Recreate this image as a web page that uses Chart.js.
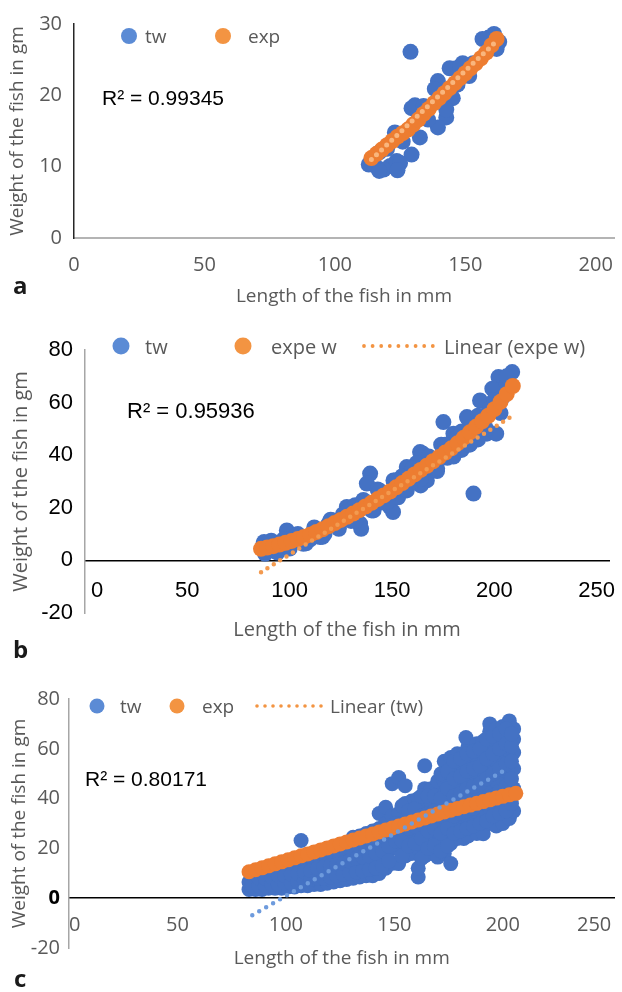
<!DOCTYPE html>
<html>
<head>
<meta charset="utf-8">
<script src="https://cdn.jsdelivr.net/npm/chart.js@4.4.1/dist/chart.umd.min.js"></script>
<style>
  body { margin: 0; background: #fff; }
  #wrap { position: relative; width: 622px; height: 992px; }
  canvas { position: absolute; left: 0; }
</style>
</head>
<body>
<div id="wrap">
  <canvas id="chartA" width="622" height="312" style="top:0px"></canvas>
  <canvas id="chartB" width="622" height="346" style="top:318px"></canvas>
  <canvas id="chartC" width="622" height="332" style="top:660px"></canvas>
</div>
<script>
// ---- panel a ----
const aTwLength = [129, 159, 162, 146.5, 144, 151.5, 139.5, 138.3, 145.2, 129.4, 130.7, 142.7, 139.5, 132.6, 123, 129.4, 115.5, 121.2, 118.7, 123.7, 156.6, 142.7, 135.7, 149, 126, 134, 153, 147, 117, 120,
  113, 117, 125, 124, 161, 163, 150, 148];
const aTwWeight = [26.1, 28.1, 26.5, 23.8, 23.8, 22.7, 22.0, 20.9, 19.6, 18.2, 18.6, 16.9, 15.5, 14.1, 14.8, 11.7, 10.1, 10.1, 9.6, 10.8, 27.9, 18.0, 16.6, 24.5, 13.5, 18.5, 24.5, 21.5, 12.0, 12.5,
  10.3, 9.4, 10.5, 9.5, 28.6, 27.5, 23.5, 24.0];
const aExpLength = [114, 116, 118, 120, 122, 124, 126, 128, 130, 132, 134, 136, 138, 140, 142, 144, 146, 148, 150, 152, 154, 156, 158, 160, 162];
const aExpWeight = [11.2, 11.8, 12.4, 13.0, 13.6, 14.2, 14.7, 15.2, 15.9, 16.6, 17.4, 18.1, 18.9, 19.6, 20.3, 21.0, 21.7, 22.4, 23.1, 23.8, 24.5, 25.2, 26.0, 27.0, 27.9];
const aTrendLength = [114, 162];
const aTrendWeight = [11.0, 27.6];
const aXTicks = [0, 50, 100, 150, 200];
const aYTicks = [0, 10, 20, 30];

// ---- panel b ----
const bTwLength = [189.8, 139.3, 137.7, 175.1, 193, 163.7, 127.9, 98.6, 134.4, 149, 150.7, 170.2, 186.6, 196.3, 87.2, 90.4, 114.9, 106.7, 121.4, 144.2, 157.2, 157.2, 178.4, 167, 180, 201.2, 208.7, 202, 165, 134.9, 150.5, 164, 200.9, 187.2, 199, 87.5,
  92, 95, 100, 103, 110, 112, 117, 119, 124, 126, 130, 132, 141, 143, 146, 153, 155, 160, 162, 168, 172, 174, 177, 182, 184, 190, 192, 195, 198, 204, 206,
  88, 91, 94, 97, 100, 104, 108, 112, 116, 120, 124, 128, 132, 136, 140, 144, 148, 152, 156, 160, 164, 168, 172, 176, 180, 184, 188, 192, 196, 200, 203, 206];
const bTwWeight = [25.4, 33.0, 29.2, 52.6, 60.8, 41.2, 20.3, 11.4, 14.0, 20.3, 30.4, 35.5, 54.5, 48.2, 6.3, 3.8, 8.9, 6.3, 15.2, 24.1, 26.6, 35.5, 43.1, 30.4, 48.2, 65.9, 71.6, 69.7, 40.6, 12.0, 18.4, 28.5, 48.2, 53.9, 65.3, 7.0,
  6.5, 4.5, 7.5, 9.5, 8.0, 11.0, 10.0, 14.0, 13.0, 17.5, 15.0, 21.0, 19.0, 27.0, 22.0, 24.0, 32.0, 30.0, 37.0, 39.0, 34.0, 44.0, 39.0, 47.0, 42.0, 50.0, 46.0, 55.0, 58.0, 62.0, 67.0,
  2.5, 7.5, 3.0, 8.0, 4.5, 10.0, 6.5, 12.5, 9.0, 15.5, 12.0, 18.5, 15.0, 23.0, 19.0, 26.5, 22.5, 30.5, 27.0, 35.0, 31.0, 39.5, 35.0, 44.0, 39.5, 49.0, 44.0, 55.0, 50.0, 61.0, 56.0, 70.0];
const bExpLength = [86, 89, 92, 95, 98, 101, 104, 107, 110, 113, 116, 119, 122, 125, 128, 131, 134, 137, 140, 143, 146, 149, 152, 155, 158, 161, 164, 167, 170, 173, 176, 179, 182, 185, 188, 191, 194, 197, 200, 203, 206, 209];
const bExpWeight = [4.4, 4.9, 5.4, 6.0, 6.7, 7.4, 8.1, 8.9, 9.8, 10.8, 11.8, 13.0, 14.2, 15.4, 16.6, 17.8, 19.1, 20.5, 21.9, 23.3, 24.7, 26.2, 27.8, 29.4, 31.0, 32.7, 34.4, 36.0, 37.7, 39.3, 41.0, 42.6, 44.5, 46.6, 48.7, 50.8, 52.9, 55.0, 57.5, 60.3, 63.2, 66.3];
const bTrendLength = [86, 209];
const bTrendWeight = [-4.5, 55];
const bXTicks = [0, 50, 100, 150, 200, 250];
const bYTicks = [-20, 0, 20, 40, 60, 80];

// ---- panel c ----
const cTwLength = [
  83, 83, 84, 86, 86, 86, 89, 89, 89, 92, 92, 92, 95, 95, 95, 98, 98, 98,
  101, 101, 101, 104, 104, 104, 107, 107, 107, 107, 110, 110, 110, 113, 113, 113, 116, 116, 116, 119, 119, 119,
  122, 122, 122, 125, 125, 125, 128, 128, 128, 128, 131, 131, 131, 131, 134, 134, 134, 134, 137, 137, 137, 137,
  140, 140, 140, 140, 143, 143, 143, 143, 143, 146, 146, 146, 146, 146,
  149, 149, 149, 149, 149, 152, 152, 152, 152, 152, 155, 155, 155, 155, 155, 158, 158, 158, 158,
  161, 161, 161, 161, 161, 161, 164, 164, 164, 164, 164, 164, 167, 167, 167, 167, 167, 170, 170, 170, 170, 170, 170,
  173, 173, 173, 173, 173, 173, 176, 176, 176, 176, 176, 176, 176, 179, 179, 179, 179, 179, 179,
  182, 182, 182, 182, 182, 182, 184, 184, 184, 184, 184, 184, 183, 188, 188, 188, 188, 188, 188,
  191, 191, 191, 191, 191, 191, 194, 194, 194, 194, 194, 194, 194, 197, 197, 197, 197, 197, 197,
  200, 200, 200, 200, 200, 200, 203, 203, 203, 203, 203, 203, 205, 205, 205, 205, 205, 205,
  150, 156, 163, 171, 178, 186, 192, 198, 139, 133, 127,
  84.5, 87.5, 87.5, 90.5, 90.5, 93.5, 93.5, 96.5, 96.5, 99.5, 99.5,
  102.5, 102.5, 105.5, 105.5, 108.5, 108.5, 111.5, 111.5, 114.5, 114.5, 117.5, 117.5, 120.5, 120.5, 123.5, 123.5, 126.5, 126.5,
  129.5, 129.5, 132.5, 132.5, 135.5, 135.5, 138.5, 138.5, 141.5, 141.5, 141.5, 144.5, 144.5, 144.5, 147.5, 147.5, 147.5,
  150.5, 150.5, 153.5, 153.5, 153.5, 153.5, 156.5, 156.5, 156.5, 159.5, 159.5, 159.5, 162.5, 162.5, 162.5, 162.5,
  165.5, 165.5, 165.5, 165.5, 168.5, 168.5, 168.5, 168.5, 171.5, 171.5, 171.5, 171.5, 171.5, 174.5, 174.5, 174.5, 174.5, 174.5,
  177.5, 177.5, 177.5, 177.5, 177.5, 180.5, 180.5, 180.5, 180.5, 180.5, 183.5, 183.5, 183.5, 183.5, 183.5,
  186.5, 186.5, 186.5, 186.5, 186.5, 189.5, 189.5, 189.5, 189.5, 189.5, 192.5, 192.5, 192.5, 192.5, 192.5,
  195.5, 195.5, 195.5, 195.5, 195.5, 198.5, 198.5, 198.5, 198.5, 198.5, 201.5, 201.5, 201.5, 201.5, 201.5, 204, 204, 204, 204, 204];
const cTwWeight = [
  3.5, 6.5, 5.0, 3.5, 6.5, 9.0, 3.5, 6.5, 9.0, 4.0, 7.0, 9.5, 4.0, 7.0, 10.0, 4.0, 7.0, 10.5,
  4.5, 7.5, 11.0, 4.5, 8.0, 11.5, 5.0, 8.5, 12.0, 23.2, 5.0, 9.0, 12.5, 5.5, 9.5, 13.5, 5.5, 10.0, 14.0, 6.0, 10.5, 15.0,
  6.5, 11.0, 15.5, 7.0, 11.5, 16.5, 7.5, 12.0, 17.0, 21.0, 8.0, 12.5, 18.0, 24.5, 8.5, 13.0, 18.5, 25.0, 9.0, 14.0, 19.5, 26.0,
  9.0, 14.5, 20.0, 27.0, 9.9, 15.0, 21.0, 28.0, 34.0, 12.0, 17.0, 23.0, 30.0, 36.5,
  14.0, 20.0, 26.0, 33.0, 46.0, 13.9, 20.0, 26.0, 34.0, 48.5, 17.0, 24.0, 31.0, 38.0, 45.2, 18.0, 25.0, 32.0, 39.0,
  8.5, 12.0, 20.0, 27.0, 34.0, 40.0, 17.0, 23.0, 30.0, 37.0, 44.0, 53.2, 18.0, 24.0, 31.0, 38.0, 44.0, 16.5, 22.0, 29.0, 36.0, 43.0, 47.0,
  18.0, 25.0, 32.0, 40.0, 47.0, 55.0, 13.9, 22.0, 28.0, 35.0, 43.0, 50.0, 56.5, 24.0, 30.0, 37.0, 45.0, 52.0, 58.0,
  24.0, 31.0, 38.0, 46.0, 53.0, 58.0, 25.0, 32.0, 40.0, 48.0, 55.0, 61.0, 64.5, 26.0, 33.0, 41.0, 49.0, 56.0, 62.0,
  25.9, 34.0, 43.0, 51.0, 58.0, 63.0, 30.0, 36.0, 45.0, 53.0, 60.0, 67.0, 70.0, 29.0, 37.0, 47.0, 55.0, 62.0, 68.0,
  30.0, 38.0, 48.0, 57.0, 64.0, 69.0, 32.0, 40.0, 50.0, 59.0, 66.0, 71.2, 35.0, 44.0, 52.0, 58.5, 63.9, 68.0,
  23.0, 28.0, 26.0, 33.0, 40.0, 44.0, 40.0, 51.0, 23.5, 21.5, 14.5,
  5.0, 5.0, 8.0, 5.0, 8.0, 5.5, 8.5, 5.5, 9.0, 6.0, 9.0,
  6.0, 9.5, 6.5, 10.0, 7.0, 10.5, 7.5, 11.0, 8.0, 12.0, 8.0, 12.5, 8.5, 13.0, 9.0, 13.5, 9.5, 14.0,
  10.0, 15.0, 10.5, 16.0, 11.0, 16.5, 11.5, 17.0, 12.0, 18.0, 24.0, 13.0, 19.0, 25.0, 15.0, 21.0, 28.0,
  23.0, 30.0, 17.0, 23.0, 30.0, 37.0, 21.0, 28.0, 35.0, 22.0, 29.0, 36.0, 16.0, 24.0, 33.0, 41.0,
  20.0, 27.0, 34.0, 41.0, 21.0, 28.0, 35.0, 41.0, 19.0, 26.0, 33.0, 40.0, 50.0, 21.0, 28.0, 36.0, 44.0, 51.0,
  26.0, 33.0, 41.0, 48.0, 55.0, 27.0, 34.0, 42.0, 49.0, 56.0, 28.0, 35.0, 44.0, 51.0, 58.0,
  29.0, 36.0, 45.0, 52.0, 59.0, 30.0, 38.0, 46.0, 53.0, 60.0, 31.0, 40.0, 48.0, 56.0, 64.0,
  33.0, 41.0, 50.0, 58.0, 65.0, 34.0, 43.0, 52.0, 60.0, 66.0, 35.0, 45.0, 54.0, 62.0, 68.0, 38.0, 48.0, 55.0, 61.0, 66.0];
const cExpLength = [83, 86, 89, 92, 95, 98, 101, 104, 107, 110, 113, 116, 119, 122, 125, 128, 131, 134, 137, 140, 143, 146, 149, 152, 155, 158, 161, 164, 167, 170, 173, 176, 179, 182, 185, 188, 191, 194, 197, 200, 203, 206];
const cExpWeight = [10.6, 11.4, 12.2, 13.0, 13.8, 14.6, 15.4, 16.2, 17.0, 17.8, 18.6, 19.4, 20.2, 21.0, 21.8, 22.6, 23.4, 24.2, 25.0, 25.8, 26.6, 27.4, 28.2, 29.0, 29.8, 30.6, 31.4, 32.2, 33.0, 33.8, 34.6, 35.3, 36.0, 36.7, 37.4, 38.1, 38.8, 39.5, 40.2, 40.9, 41.5, 42.1];
const cTrendLength = [84.5, 202];
const cTrendWeight = [-6.8, 52];
const cXTicks = [0, 50, 100, 150, 200, 250];
const cYTicks = [-20, 0, 20, 40, 60, 80];

const blue = '#4472C4';
const orange = '#ED7D31';
const grey = '#595959';
const sans = '"Open Sans", sans-serif';
const arial = '"Liberation Sans", Arial, sans-serif';

const pts = (xs, ys) => xs.map((x, i) => ({ x: x, y: ys[i] }));

// legend, R² note and panel letter, placed inside the plot like the original
const panelDecor = {
  id: 'panelDecor',
  afterDraw(chart, args, o) {
    const ctx = chart.ctx;
    ctx.save();
    ctx.textBaseline = 'middle';
    o.legend.forEach(it => {
      ctx.fillStyle = it.color;
      if (it.kind === 'dot') {
        ctx.beginPath();
        ctx.arc(it.x, it.y, it.r, 0, Math.PI * 2);
        ctx.fill();
      } else {
        for (let x = it.x; x <= it.x2 + 0.1; x += it.gap) {
          ctx.beginPath();
          ctx.arc(x, it.y, it.r, 0, Math.PI * 2);
          ctx.fill();
        }
      }
      ctx.font = o.legendFont;
      ctx.fillStyle = grey;
      ctx.fillText(chart.data.datasets[it.ds].label, it.textX, it.y + 2);
    });
    ctx.font = o.r2.font;
    ctx.fillStyle = '#000';
    ctx.fillText(o.r2.text, o.r2.x, o.r2.y);
    ctx.textBaseline = 'alphabetic';
    ctx.font = 'bold 24px ' + sans;
    ctx.fillStyle = '#1a1a1a';
    ctx.fillText(o.letter.text, o.letter.x, o.letter.y);
    ctx.restore();
  }
};

function makePanel(id, p) {
  const canvas = document.getElementById(id);
  const H = canvas.height;
  new Chart(canvas, {
    type: 'scatter',
    plugins: [panelDecor],
    data: {
      datasets: [
        { label: p.labels[0], data: pts(p.tw[0], p.tw[1]), backgroundColor: blue, pointRadius: p.r, pointBorderWidth: 0, order: 3 },
        { label: p.labels[1], data: pts(p.exp[0], p.exp[1]), backgroundColor: orange, pointRadius: p.r, pointBorderWidth: 0, order: 2 },
        { label: p.labels[2], data: pts(p.trend[0], p.trend[1]), showLine: true, pointRadius: 0,
          borderColor: p.trendColor, borderWidth: p.trendWidth, borderDash: [0, p.trendGap], borderCapStyle: 'round', order: 1 }
      ]
    },
    options: {
      responsive: false,
      animation: false,
      events: [],
      layout: { padding: { top: p.area.top, right: 622 - p.area.right, bottom: H - p.area.bottom, left: 0 } },
      plugins: {
        legend: { display: false },
        tooltip: { enabled: false },
        panelDecor: p.decor
      },
      scales: {
        x: {
          type: 'linear',
          position: { y: 0 },
          min: 0,
          max: p.xMax,
          afterBuildTicks: s => { s.ticks = p.xTicks.map(v => ({ value: v })); },
          afterFit: s => { s.height = p.xTitleDrop + p.titleSize * 0.6; s.paddingLeft = 0; s.paddingRight = 0; },
          grid: { display: false, drawTicks: false },
          border: { display: true, color: p.xLine, width: p.xLineWidth },
          ticks: {
            font: { family: p.tickFamily, size: p.tickSize }, color: p.tickColor, padding: p.xTickPad, align: p.xAlign, maxRotation: 0,
            // the first label sits clear of the vertical axis in panel b
            callback: v => (v === 0 ? p.zeroPad : '') + v
          },
          title: { display: true, text: 'Length of the fish in mm', color: grey, font: { family: sans, size: p.titleSize }, padding: 0 }
        },
        y: {
          type: 'linear',
          position: 'left',
          min: p.yTicks[0],
          max: p.yTicks[p.yTicks.length - 1],
          afterBuildTicks: s => { s.ticks = p.yTicks.map(v => ({ value: v })); },
          afterFit: s => { s.width = p.area.left; },
          grid: { display: false, drawTicks: false },
          border: { display: true, color: p.yLine, width: 1.5 },
          ticks: {
            font: c => ({ family: p.tickFamily, size: p.tickSize, weight: (p.boldZero && c.tick && c.tick.value === 0) ? 'bold' : 'normal' }),
            color: c => (p.boldZero && c.tick && c.tick.value === 0) ? '#000' : p.tickColor,
            padding: p.yTickPad
          },
          title: { display: true, text: 'Weight of the fish in gm', color: grey, font: { family: sans, size: p.titleSize }, padding: { top: p.yTitlePad, bottom: 0 } }
        }
      }
    }
  });
}

makePanel('chartA', {
  labels: ['tw', 'exp', 'Linear (exp)'],
  tw: [aTwLength, aTwWeight], exp: [aExpLength, aExpWeight], trend: [aTrendLength, aTrendWeight],
  xTicks: aXTicks, yTicks: aYTicks, xMax: 207,
  area: { left: 74, top: 16, right: 620, bottom: 238 },
  r: 8, trendColor: 'rgba(250,185,130,0.95)', trendWidth: 5, trendGap: 7,
  tickFamily: sans, tickSize: 20, tickColor: grey, boldZero: false, zeroPad: '',
  xLine: '#b4b4b4', xLineWidth: 2, yLine: '#262626',
  xTickPad: 15, yTickPad: 12, xAlign: 'center',
  titleSize: 19, xTitleDrop: 59, yTitlePad: 6,
  decor: {
    legendFont: '19px ' + sans,
    legend: [
      { ds: 0, kind: 'dot', color: '#5B8BD5', x: 129, y: 36, r: 8, textX: 145 },
      { ds: 1, kind: 'dot', color: '#F39442', x: 223, y: 36, r: 8, textX: 248 }
    ],
    r2: { text: 'R² = 0.99345', x: 102, y: 99, font: '21px ' + arial },
    letter: { text: 'a', x: 13, y: 294 }
  }
});

makePanel('chartB', {
  labels: ['tw', 'expe w', 'Linear (expe w)'],
  tw: [bTwLength, bTwWeight], exp: [bExpLength, bExpWeight], trend: [bTrendLength, bTrendWeight],
  xTicks: bXTicks, yTicks: bYTicks, xMax: 256,
  area: { left: 85, top: 32, right: 609, bottom: 295 },
  r: 8, trendColor: '#F39A4F', trendWidth: 4.5, trendGap: 7.5,
  tickFamily: arial, tickSize: 22, tickColor: '#000', boldZero: false, zeroPad: '    ',
  xLine: '#000', xLineWidth: 1.5, yLine: '#a6a6a6',
  xTickPad: 17, yTickPad: 12, xAlign: 'center',
  titleSize: 20, xTitleDrop: 70, yTitlePad: 9,
  decor: {
    legendFont: '20px ' + sans,
    legend: [
      { ds: 0, kind: 'dot', color: '#5B8BD5', x: 121, y: 28, r: 8.5, textX: 145 },
      { ds: 1, kind: 'dot', color: '#F39442', x: 243, y: 28, r: 8.5, textX: 271 },
      { ds: 2, kind: 'dots', color: '#F39442', x: 364, x2: 433, gap: 8.6, y: 28, r: 1.9, textX: 444 }
    ],
    r2: { text: 'R² = 0.95936', x: 127, y: 94, font: '22px ' + arial },
    letter: { text: 'b', x: 13, y: 340 }
  }
});

makePanel('chartC', {
  labels: ['tw', 'exp', 'Linear (tw)'],
  tw: [cTwLength, cTwWeight], exp: [cExpLength, cExpWeight], trend: [cTrendLength, cTrendWeight],
  xTicks: cXTicks, yTicks: cYTicks, xMax: 251.5,
  area: { left: 69, top: 39, right: 620, bottom: 288 },
  r: 7.5, trendColor: '#6E9BDD', trendWidth: 4.5, trendGap: 8,
  tickFamily: sans, tickSize: 20, tickColor: grey, boldZero: true, zeroPad: '',
  xLine: '#000', xLineWidth: 1.5, yLine: '#a6a6a6',
  xTickPad: 15, yTickPad: 9, xAlign: 'inner',
  titleSize: 19, xTitleDrop: 60, yTitlePad: 8,
  decor: {
    legendFont: '19px ' + sans,
    legend: [
      { ds: 0, kind: 'dot', color: '#5B8BD5', x: 97, y: 46, r: 7.5, textX: 120 },
      { ds: 1, kind: 'dot', color: '#F39442', x: 177, y: 46, r: 7.5, textX: 202 },
      { ds: 2, kind: 'dots', color: '#F39442', x: 257, x2: 321, gap: 8, y: 46, r: 1.8, textX: 330 }
    ],
    r2: { text: 'R² = 0.80171', x: 85, y: 120, font: '21px ' + arial },
    letter: { text: 'c', x: 14, y: 327 }
  }
});
</script>
</body>
</html>
